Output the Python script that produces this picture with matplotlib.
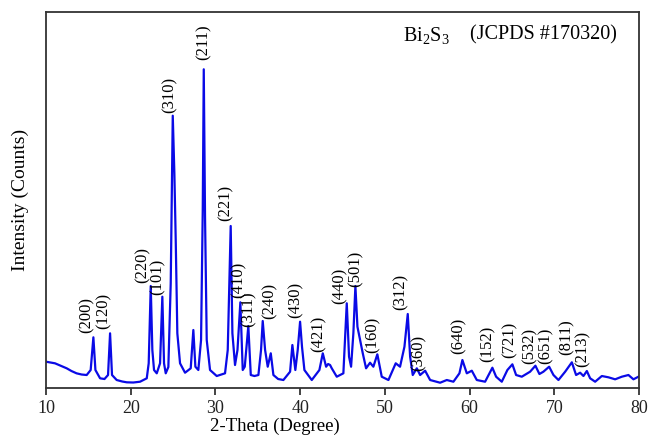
import matplotlib
matplotlib.use('Agg')
import matplotlib.pyplot as plt

plt.rcParams['font.family'] = ['Liberation Serif', 'DejaVu Serif']
plt.rcParams['mathtext.fontset'] = 'custom'
plt.rcParams['mathtext.rm'] = 'Liberation Serif'
plt.rcParams['mathtext.it'] = 'Liberation Serif:italic'

# XRD pattern (2-theta in degrees, intensity in arbitrary units)
two_theta = [
    10.0, 10.5, 11.06, 11.8, 12.44, 13.0, 13.6, 14.2, 14.8, 15.27, 15.59, 15.83, 16.38, 16.9,
    17.32, 17.56, 17.79, 18.34, 19.0, 19.53, 20.3, 21.1, 21.89, 22.12, 22.36, 22.55,
    22.75, 23.07, 23.46, 23.73, 23.93, 24.13, 24.44, 24.72, 24.96, 25.15, 25.31, 25.5,
    25.82, 26.41, 27.08, 27.39, 27.63, 27.98, 28.3, 28.5, 28.62, 28.77, 28.97, 29.36,
    30.15, 31.13, 31.45, 31.8, 32.0, 32.31, 32.6, 32.94, 33.22, 33.46, 33.88, 34.17,
    34.6, 35.07, 35.38, 35.58, 35.86, 36.17, 36.53, 36.84, 37.4, 38.02, 38.81, 39.08,
    39.43, 39.71, 39.99, 40.22, 40.5, 41.37, 42.27, 42.67, 43.06, 43.3, 43.53, 43.73,
    44.32, 45.1, 45.5, 45.77, 46.01, 46.28, 46.52, 46.76, 47.07, 47.39, 47.78, 48.25,
    48.64, 49.11, 49.63, 50.42, 51.28, 51.79, 52.31, 52.7, 52.98, 53.29, 53.77, 54.16,
    54.75, 55.34, 56.52, 57.31, 58.09, 58.8, 59.15, 59.67, 60.26, 60.85, 61.83, 62.34,
    62.69, 63.13, 63.8, 64.46, 65.05, 65.49, 66.16, 67.14, 67.77, 68.24, 68.71, 69.39,
    69.9, 70.49, 71.28, 72.07, 72.57, 73.05, 73.44, 73.84, 74.23, 74.82, 75.61, 76.39,
    77.18, 77.97, 78.75, 79.34, 79.93,
]
intensity = [
    26.3, 25.5, 24.7, 22.0, 19.7, 17.0, 14.7, 13.5, 13.0, 18.0, 50.7, 18.0, 9.7, 9.0,
    13.0, 54.7, 13.0, 8.0, 6.5, 5.7, 5.5, 6.3, 9.7, 24.7, 102.0, 38.0,
    18.0, 14.7, 24.7, 91.3, 24.7, 14.7, 21.0, 104.7, 272.3, 214.7, 148.0, 54.7,
    24.7, 15.3, 19.7, 58.0, 21.3, 18.0, 48.0, 178.0, 318.7, 171.0, 48.0, 18.0,
    12.0, 14.7, 38.0, 162.0, 54.7, 23.0, 38.0, 85.7, 18.0, 21.3, 62.0, 13.0,
    12.0, 13.0, 38.0, 67.0, 38.0, 21.3, 34.7, 13.0, 9.0, 8.0, 16.3, 43.0,
    18.0, 38.0, 66.3, 41.0, 18.0, 8.0, 18.0, 34.7, 21.3, 24.0, 23.0, 19.7,
    11.3, 14.7, 84.7, 31.3, 21.3, 54.7, 102.0, 61.3, 48.0, 34.7, 19.7, 25.3,
    21.3, 33.7, 11.3, 8.0, 24.7, 21.3, 41.3, 74.0, 31.3, 13.0, 19.7, 13.0,
    17.3, 8.0, 5.3, 8.0, 6.3, 14.7, 28.0, 14.7, 17.3, 8.0, 6.3, 14.7,
    20.3, 11.3, 6.3, 18.0, 23.7, 13.0, 11.3, 16.3, 22.3, 14.0, 16.3, 21.3,
    13.0, 8.0, 16.3, 25.7, 13.0, 15.3, 12.0, 17.0, 9.7, 6.3, 12.0, 10.7,
    8.7, 11.3, 13.0, 8.7, 11.3,
]

# peak labels (Miller indices) and where they sit
hkl = ['(200)', '(120)', '(220)', '(101)', '(310)', '(211)', '(221)', '(410)', '(311)',
       '(240)', '(430)', '(421)', '(440)', '(501)', '(160)', '(312)', '(360)', '(640)',
       '(152)', '(721)', '(532)', '(651)', '(811)', '(213)']
hkl_x = [14.8, 16.77, 21.37, 23.14, 24.56, 28.57, 31.2, 32.7, 33.97, 36.37, 39.5, 42.15,
         44.7, 46.6, 48.57, 51.9, 54.04, 58.76, 62.1, 64.78, 67.06, 69.03, 71.48, 73.37]
hkl_y = [55, 59, 105, 93, 275, 328, 167, 90, 61, 69, 70, 36,
         84, 101, 35, 78, 17, 34, 26, 30, 24, 24, 33, 21]

fig = plt.figure(figsize=(6.51, 4.44), dpi=100)
ax = fig.add_axes([0.0707, 0.1261, 0.9109, 0.8469])

ax.plot(two_theta, intensity, color='#0a0ae6', lw=1.6)

for lab, x, y in zip(hkl, hkl_x, hkl_y):
    ax.text(x, y, lab, rotation=90, ha='center', va='bottom', fontsize=12)

ax.text(0.602, 0.937, 'Bi$_2$S$_3$', transform=ax.transAxes, fontsize=14.5, va='center')
ax.text(0.715, 0.939, '(JCPDS #170320)', transform=ax.transAxes, fontsize=14.5, va='center')

ax.set_xlim(10, 80)
ax.set_ylim(0, 376)
ax.set_xticks(range(10, 81, 10))
ax.set_yticks([])
ax.tick_params(axis='x', direction='out', length=5, width=1.2, labelsize=13, colors='#222')
for s in ax.spines.values():
    s.set_linewidth(1.3)
    s.set_color('#333')

ax.set_xlabel('2-Theta (Degree)', fontsize=13.5)
ax.xaxis.set_label_coords(0.386, -0.08)
ax.set_ylabel('Intensity (Counts)', fontsize=14, labelpad=12)

fig.savefig('out.png', dpi=100)
